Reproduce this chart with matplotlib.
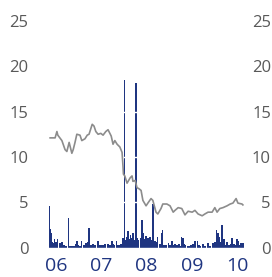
import matplotlib
matplotlib.use('Agg')
import matplotlib.pyplot as plt

# bar series (decimal years, values)
bar_dates = [2005.85, 2005.87, 2005.89, 2005.91, 2005.93, 2005.96, 2005.98, 2006.00, 2006.02, 2006.04,
             2006.09, 2006.13, 2006.15, 2006.18, 2006.22, 2006.27, 2006.31, 2006.35, 2006.40, 2006.44,
             2006.46, 2006.49, 2006.53, 2006.57, 2006.62, 2006.66, 2006.69, 2006.73, 2006.77, 2006.82,
             2006.86, 2006.91, 2006.93, 2006.97, 2007.02, 2007.04, 2007.08, 2007.10, 2007.15, 2007.19,
             2007.24, 2007.26, 2007.28, 2007.33, 2007.35, 2007.39, 2007.44, 2007.48, 2007.50, 2007.52,
             2007.55, 2007.57, 2007.59, 2007.61, 2007.64, 2007.66, 2007.68, 2007.70, 2007.72, 2007.75,
             2007.77, 2007.79, 2007.81, 2007.83, 2007.88, 2007.90, 2007.92, 2007.94, 2007.97, 2007.99,
             2008.01, 2008.03, 2008.06, 2008.08, 2008.10, 2008.12, 2008.14, 2008.17, 2008.19, 2008.23,
             2008.25, 2008.30, 2008.34, 2008.36, 2008.39, 2008.43, 2008.48, 2008.52, 2008.56, 2008.59,
             2008.63, 2008.67, 2008.72, 2008.74, 2008.78, 2008.81, 2008.83, 2008.85, 2008.90, 2008.94,
             2008.98, 2009.03, 2009.07, 2009.12, 2009.16, 2009.20, 2009.25, 2009.29, 2009.36, 2009.40,
             2009.47, 2009.51, 2009.54, 2009.56, 2009.58, 2009.60, 2009.62, 2009.65, 2009.67, 2009.69,
             2009.71, 2009.76, 2009.78, 2009.82, 2009.87, 2009.89, 2009.93, 2009.98, 2010.00, 2010.02,
             2010.07, 2010.09, 2010.13, 2010.15]
bar_vals = [4.6, 2.0, 1.6, 0.6, 0.5, 0.9, 0.5, 0.6, 0.5, 0.9,
            0.5, 0.6, 0.3, 0.3, 0.2, 3.3, 0.2, 0.2, 0.2, 0.4,
            0.7, 0.3, 0.2, 0.7, 0.3, 0.5, 0.6, 2.1, 0.3, 0.4,
            0.3, 0.7, 0.7, 0.3, 0.3, 0.3, 0.4, 0.3, 0.4, 0.3,
            0.7, 0.4, 0.3, 0.7, 0.3, 0.3, 0.4, 1.1, 0.5, 18.5,
            0.8, 1.2, 1.8, 0.9, 1.4, 0.6, 1.1, 1.6, 0.8, 0.9,
            18.2, 1.0, 0.7, 0.8, 1.0, 3.0, 1.6, 1.5, 0.9, 1.3,
            0.8, 1.1, 1.1, 1.2, 0.8, 0.5, 4.8, 0.6, 0.7, 0.6,
            1.2, 0.4, 1.6, 1.9, 0.3, 0.3, 0.5, 0.3, 0.7, 0.3,
            0.4, 0.3, 0.4, 0.2, 1.2, 1.1, 0.4, 0.3, 0.2, 0.2,
            0.3, 0.4, 0.7, 0.7, 0.3, 0.2, 0.4, 0.2, 0.5, 0.2,
            0.5, 0.6, 1.9, 1.3, 1.6, 0.8, 1.2, 0.6, 2.5, 0.7,
            0.9, 0.3, 0.6, 0.3, 0.4, 1.0, 0.4, 0.3, 0.9, 0.7,
            0.3, 0.5, 0.5, 0.3]

# line series
line_dates = [2005.87, 2005.98, 2006.02, 2006.04, 2006.13, 2006.20, 2006.24, 2006.29, 2006.35, 2006.38,
              2006.42, 2006.46, 2006.53, 2006.57, 2006.64, 2006.69, 2006.73, 2006.80, 2006.84, 2006.88,
              2006.93, 2006.99, 2007.04, 2007.10, 2007.15, 2007.22, 2007.26, 2007.30, 2007.35, 2007.41,
              2007.46, 2007.48, 2007.49, 2007.52, 2007.57, 2007.64, 2007.68, 2007.70, 2007.75, 2007.79,
              2007.83, 2007.88, 2007.92, 2007.99, 2008.03, 2008.10, 2008.14, 2008.21, 2008.25, 2008.32,
              2008.36, 2008.45, 2008.52, 2008.59, 2008.63, 2008.70, 2008.78, 2008.85, 2008.92, 2009.01,
              2009.07, 2009.14, 2009.23, 2009.29, 2009.36, 2009.45, 2009.51, 2009.56, 2009.62, 2009.69,
              2009.78, 2009.85, 2009.91, 2009.98, 2010.02, 2010.11, 2010.13]
line_vals = [12.1, 12.1, 12.8, 12.4, 11.8, 10.8, 10.6, 11.6, 10.4, 10.8,
             11.6, 12.5, 12.4, 11.8, 12.0, 12.4, 12.5, 13.6, 13.4, 12.8,
             12.5, 12.6, 12.4, 12.8, 13.0, 12.3, 11.4, 11.8, 11.4, 11.1,
             10.5, 9.0, 8.1, 7.9, 7.1, 7.7, 7.9, 7.3, 7.4, 6.6,
             6.5, 6.3, 5.2, 4.6, 4.9, 5.4, 5.2, 3.9, 3.7, 4.3,
             4.8, 4.8, 4.6, 3.9, 4.1, 4.4, 4.3, 3.6, 4.0, 3.9,
             4.1, 3.7, 3.5, 3.7, 3.9, 3.9, 4.4, 3.9, 4.3, 4.4,
             4.6, 4.8, 4.9, 5.4, 4.9, 4.8, 4.7]

year_ticks = [2006, 2007, 2008, 2009, 2010]
year_labels = ['06', '07', '08', '09', '10']
y_ticks = [0, 5, 10, 15, 20, 25]

navy = '#1f3581'
grey_txt = '#595959'

W, H = 272, 277
fig = plt.figure(figsize=(W / 100, H / 100), dpi=100)
ax = fig.add_axes([38 / W, (H - 247.5) / H, 210 / W, 226.5 / H])

ax.bar(bar_dates, bar_vals, width=0.03, color=navy, linewidth=0, zorder=1)
ax.set_xlim(2005.602, 2010.243)
ax.set_ylim(0, 25)
ax.set_yticks(y_ticks)
ax.grid(axis='y', color='white', linewidth=1.0, zorder=2)
ax.set_axisbelow(False)
ax.set_xticks(year_ticks)
ax.set_xticklabels(year_labels)

for s in ax.spines.values():
    s.set_visible(False)
ax.tick_params(axis='x', length=0, pad=7, labelsize=14, labelcolor=navy)
ax.tick_params(axis='y', length=0, pad=7, labelsize=12, labelcolor=grey_txt)
for lab in ax.get_xticklabels() + ax.get_yticklabels():
    lab.set_family('Open Sans')

ax2 = ax.twinx()
ax2.plot(line_dates, line_vals, color='#8c8c8c', linewidth=1.2)
ax2.set_ylim(0, 25)
ax2.set_yticks(y_ticks)
for s in ax2.spines.values():
    s.set_visible(False)
ax2.tick_params(axis='y', length=0, pad=16.5, labelsize=12, labelcolor=grey_txt)
for lab in ax2.get_yticklabels():
    lab.set_family('Open Sans')
    lab.set_horizontalalignment('right')

fig.savefig('out.png', dpi=100)
